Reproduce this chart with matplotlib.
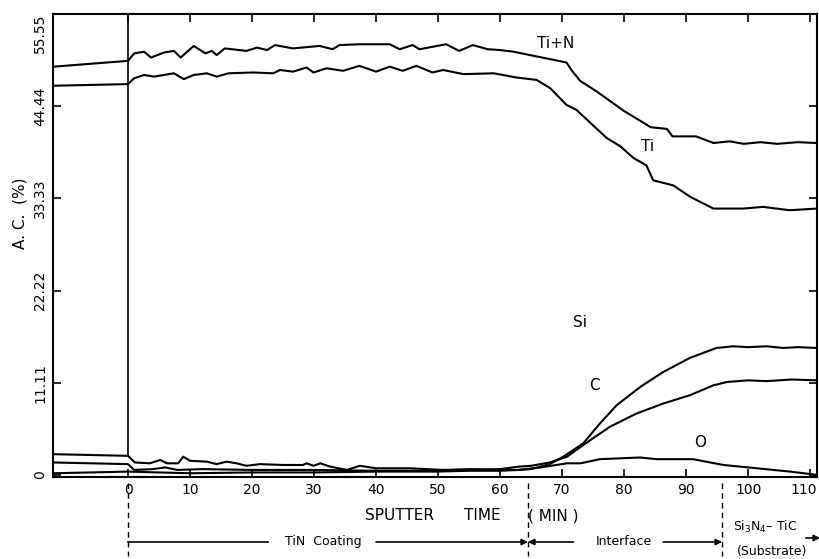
import matplotlib.pyplot as plt
import matplotlib.transforms as mtransforms

# sputter time (min) and atomic concentration (%)
tin_t = [-12, 0, 1, 2.6, 3.7, 5.8, 7.4, 8.5, 10.6, 12.5, 13.5, 14.3, 15.6, 19.1, 20.8, 22.4, 23.7,
         26.6, 30.9, 33, 34.1, 37.3, 42.2, 43.8, 45.9, 47, 51.3, 53.4, 55.6, 58, 60, 62.2, 64.8,
         68.1, 70.7, 71.5, 72.9, 75.6, 79.9, 84.3, 86.9, 87.8, 91.6, 94.4, 97, 99.3, 102, 104.7,
         108, 111.1]
tin_v = [49.2, 49.9, 50.8, 51.0, 50.3, 50.9, 51.1, 50.3, 51.7, 50.8, 51.1, 50.6, 51.4, 51.1, 51.5,
         51.2, 51.8, 51.4, 51.7, 51.3, 51.8, 51.9, 51.9, 51.3, 51.8, 51.3, 51.9, 51.1, 51.8, 51.3,
         51.2, 51.0, 50.6, 50.1, 49.7, 48.8, 47.5, 46.2, 43.9, 41.9, 41.7, 40.8, 40.8, 40.0, 40.2,
         39.9, 40.1, 39.9, 40.1, 40.0]

ti_t = [-12, 0, 1, 2.6, 4.2, 7.4, 9.0, 10.6, 12.7, 14.3, 16.2, 20.2, 23.4, 24.5, 26.6, 28.8, 29.9,
        32, 34.7, 37.3, 40, 42.2, 44.3, 46.5, 49.1, 50.8, 54.1, 59, 62.6, 65.9, 68.1, 70.7, 72.3,
        74.6, 77.2, 79.4, 81.5, 83.6, 84.7, 87.9, 90.7, 94.4, 99.2, 102.4, 106.7, 111.1]
ti_v = [46.9, 47.1, 47.8, 48.2, 48.0, 48.4, 47.7, 48.2, 48.4, 48.0, 48.4, 48.5, 48.4, 48.8, 48.6,
        49.1, 48.5, 49.0, 48.7, 49.3, 48.6, 49.2, 48.7, 49.3, 48.5, 48.8, 48.3, 48.4, 47.9, 47.6,
        46.6, 44.6, 44.0, 42.4, 40.6, 39.6, 38.2, 37.3, 35.5, 34.9, 33.5, 32.1, 32.1, 32.3, 31.9,
        32.1]

o_t = [-12, 0, 1.1, 3.5, 5.2, 6.3, 8.1, 8.9, 10, 12.7, 14.3, 15.9, 17.5, 19.1, 21.3, 25, 28.2,
       28.8, 29.9, 31, 32.6, 35.3, 37.4, 40, 45.5, 50.8, 55.2, 60, 63, 66.5, 70.8, 73, 76.1, 82.6,
       85.2, 91.1, 96, 101.4, 106.8, 111.1]
o_v = [2.5, 2.3, 1.5, 1.4, 1.8, 1.4, 1.4, 2.2, 1.7, 1.6, 1.3, 1.6, 1.4, 1.1, 1.3, 1.2, 1.2, 1.4,
       1.1, 1.4, 1.0, 0.6, 1.1, 0.8, 0.8, 0.6, 0.7, 0.6, 0.6, 0.9, 1.4, 1.4, 1.9, 2.1, 1.9, 1.9,
       1.2, 0.8, 0.4, 0.0]

c_t = [-12, 0, 1, 4, 6, 8, 12, 20, 30, 40, 50, 55, 60, 63, 65, 68, 70.8, 73.4, 77.7, 82, 86.3,
       90.6, 94.4, 96.6, 100, 103, 107, 111.1]
c_v = [1.5, 1.3, 0.6, 0.7, 0.9, 0.6, 0.7, 0.6, 0.6, 0.5, 0.5, 0.6, 0.7, 1.0, 1.1, 1.5, 2.2, 3.6,
       5.8, 7.4, 8.6, 9.6, 10.8, 11.2, 11.4, 11.3, 11.5, 11.4]

si_t = [-12, 0, 5, 10, 20, 30, 40, 50, 55, 60, 63, 65, 68, 70.2, 73.4, 76.1, 78.8, 82.6, 86.3,
        90.6, 94.9, 97.6, 100, 103, 105.7, 108, 111.1]
si_v = [0.2, 0.4, 0.3, 0.2, 0.3, 0.3, 0.4, 0.4, 0.5, 0.5, 0.6, 0.7, 1.3, 2.2, 3.8, 6.2, 8.4, 10.6,
        12.4, 14.1, 15.3, 15.5, 15.4, 15.5, 15.3, 15.4, 15.3]

xticks = [0, 10, 20, 30, 40, 50, 60, 70, 80, 90, 100, 110]
yticks = [0, 11.11, 22.22, 33.33, 44.44, 55.55]
ytick_labels = ['0', '11.11', '22.22', '33.33', '44.44', '55.55']

fig = plt.figure(figsize=(8.2, 5.59), dpi=100)
ax = fig.add_axes([0.0646, 0.1467, 0.9317, 0.8283])

for t, v in [(tin_t, tin_v), (ti_t, ti_v), (o_t, o_v), (c_t, c_v), (si_t, si_v)]:
    ax.plot(t, v, color='black', lw=1.5)

# start of sputtering
ax.plot([0, 0], [2.4, 55.55], color='black', lw=1.2)

ax.set_xlim(-12.1, 111.1)
ax.set_ylim(-0.25, 55.55)
ax.set_xticks(xticks)
ax.set_xticklabels([str(x) for x in xticks], fontsize=10)
ax.set_yticks(yticks)
ax.set_yticklabels(ytick_labels, fontsize=10, rotation=90, va='center')
ax.get_yticklabels()[-1].set_va('top')
ax.tick_params(direction='in', top=True, right=True, length=6, width=1.2, pad=4)
for s in ax.spines.values():
    s.set_linewidth(1.5)
# keep the last x label inside the figure
last = ax.get_xticklabels()[-1]
last.set_transform(last.get_transform() + mtransforms.ScaledTranslation(-6 / 100, 0, fig.dpi_scale_trans))

ax.text(68.9, 52.0, 'Ti+N', fontsize=11, ha='center', va='center')
ax.text(83.8, 39.6, 'Ti', fontsize=11, ha='center', va='center')
ax.text(72.9, 18.4, 'Si', fontsize=11, ha='center', va='center')
ax.text(75.2, 10.8, 'C', fontsize=11, ha='center', va='center')
ax.text(92.3, 3.9, 'O', fontsize=11, ha='center', va='center')

fig.text(20 / 820, 1 - 213 / 559, 'A. C.  (%)', fontsize=11, rotation=90, ha='center', va='center')

# labels and regions under the axis
trans = mtransforms.blended_transform_factory(ax.transData, ax.transAxes)


def fy(py):
    return (477 - py) / 463


ax.text(43.7, fy(516), 'SPUTTER', fontsize=11, ha='center', va='center', transform=trans)
ax.text(57.1, fy(516), 'TIME', fontsize=11, ha='center', va='center', transform=trans)
ax.text(68.5, fy(516), '( MIN )', fontsize=11, ha='center', va='center', transform=trans)

for xb in [0, 64.5, 95.8]:
    ax.plot([xb, xb], [fy(483), fy(556)], transform=trans, color='black', lw=1,
            ls=(0, (4, 3)), clip_on=False)

arrow = dict(arrowstyle='-|>', color='black', lw=1.2, mutation_scale=9, shrinkA=0, shrinkB=0)
ax.plot([0, 22.6], [fy(542), fy(542)], transform=trans, color='black', lw=1.2, clip_on=False)
ax.annotate('', xy=(64.5, fy(542)), xytext=(40, fy(542)), xycoords=trans, textcoords=trans,
            arrowprops=arrow, annotation_clip=False)
ax.text(31.5, fy(542), 'TiN  Coating', fontsize=9, ha='center', va='center', transform=trans)

ax.annotate('', xy=(64.5, fy(542)), xytext=(71.8, fy(542)), xycoords=trans, textcoords=trans,
            arrowprops=arrow, annotation_clip=False)
ax.text(80, fy(542), 'Interface', fontsize=9, ha='center', va='center', transform=trans)
ax.annotate('', xy=(95.8, fy(542)), xytext=(86.3, fy(542)), xycoords=trans, textcoords=trans,
            arrowprops=arrow, annotation_clip=False)

ax.text(102.7, fy(527), r'Si$_3$N$_4$– TiC', fontsize=9, ha='center', va='center', transform=trans)
ax.text(103.8, fy(552), '(Substrate)', fontsize=9, ha='center', va='center', transform=trans)
ax.annotate('', xy=(111.6, fy(538)), xytext=(109.3, fy(538)), xycoords=trans, textcoords=trans,
            arrowprops=arrow, annotation_clip=False)

plt.savefig('out.png', dpi=100)
